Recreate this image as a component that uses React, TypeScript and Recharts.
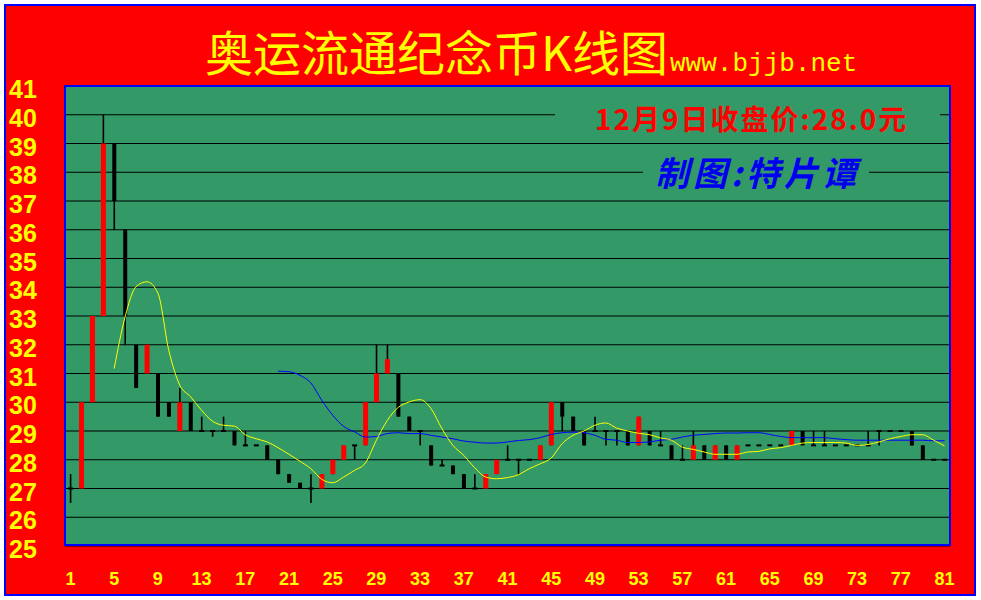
import { Bar, CartesianGrid, ComposedChart, Line, XAxis, YAxis } from "recharts";

// trading day index (x axis categories)
const days = [
  1, 2, 3, 4, 5, 6, 7, 8, 9, 10, 11, 12, 13, 14, 15, 16, 17, 18, 19, 20,
  21, 22, 23, 24, 25, 26, 27, 28, 29, 30, 31, 32, 33, 34, 35, 36, 37, 38, 39, 40,
  41, 42, 43, 44, 45, 46, 47, 48, 49, 50, 51, 52, 53, 54, 55, 56, 57, 58, 59, 60,
  61, 62, 63, 64, 65, 66, 67, 68, 69, 70, 71, 72, 73, 74, 75, 76, 77, 78, 79, 80, 81,
];

const open = [
  27, 27, 30, 33, 39, 36, 32, 31, 31, 30,
  29, 30, 29, 29, 29, 29, 28.5, 28.5, 28.5, 28,
  27.5, 27.2, 27, 27, 27.5, 28, 28.5, 28.5, 30, 31,
  31, 29.5, 29, 28.5, 27.8, 27.8, 27.5, 27, 27, 27.5,
  28, 28, 28, 28, 28.5, 30, 29.5, 29, 29, 29,
  29, 29, 28.5, 29, 28.5, 28.5, 28, 28, 28.5, 28,
  28.5, 28, 28.5, 28.5, 28.5, 28.5, 28.5, 29, 28.5, 28.5,
  28.5, 28.5, 28.5, 28.5, 29, 29, 29, 29, 28.5, 28, 28,
];

const high = [
  27.5, 30, 33, 40, 39, 36, 32, 32, 31, 30,
  30.5, 30, 29.5, 29, 29.5, 29, 29, 28.5, 28.5, 28,
  27.5, 27.2, 27.5, 27.5, 28, 28.5, 28.5, 30, 32, 32,
  31, 29.5, 29, 28.5, 28, 27.8, 27.5, 27.5, 27.5, 28,
  28.5, 28, 28, 28.5, 30, 30, 29.5, 29, 29.5, 29,
  29, 29, 29.5, 29, 29, 28.5, 28.5, 29, 28.5, 28.5,
  28.5, 28.5, 28.5, 28.5, 28.5, 28.5, 29, 29, 29, 29,
  28.5, 28.5, 28.5, 29, 29, 29, 29, 29, 28.5, 28, 28,
];

const low = [
  26.5, 27, 30, 33, 36, 32, 30.5, 31, 29.5, 29.5,
  29, 29, 29, 28.8, 29, 28.5, 28.5, 28.5, 28, 27.5,
  27.2, 27, 26.5, 27, 27.5, 28, 28, 28.5, 30, 31,
  29.5, 29, 28.5, 27.8, 27.8, 27.5, 27, 27, 27, 27.5,
  28, 27.5, 28, 28, 28.5, 29, 29, 28.5, 29, 28.5,
  28.5, 28.5, 28.5, 28.5, 28.5, 28, 28, 28, 28, 28,
  28, 28, 28.5, 28.5, 28.5, 28.5, 28.5, 28.5, 28.5, 28.5,
  28.5, 28.5, 28.5, 28.5, 28.5, 29, 29, 28.5, 28, 28, 28,
];

const close = [
  27, 30, 33, 39, 37, 33, 30.5, 32, 29.5, 29.5,
  30, 29, 29, 29, 29, 28.5, 28.5, 28.5, 28, 27.5,
  27.2, 27, 27, 27.5, 28, 28.5, 28.5, 30, 31, 31.5,
  29.5, 29, 29, 27.8, 27.8, 27.5, 27, 27, 27.5, 28,
  28, 28, 28, 28.5, 30, 29.5, 29, 28.5, 29, 29,
  29, 28.5, 29.5, 28.5, 28.5, 28, 28, 28.5, 28, 28.5,
  28, 28.5, 28.5, 28.5, 28.5, 28.5, 29, 28.5, 28.5, 28.5,
  28.5, 28.5, 28.5, 28.5, 29, 29, 29, 28.5, 28, 28, 28,
];

// yellow short average
const maShort = [
  null, null, null, null, 31.17, 32.97, 34.02, 34.19, 33.8, 31.81,
  30.6, 30.19, 29.72, 29.34, 29.2, 29.17, 28.87, 28.73, 28.62, 28.42,
  28.19, 27.95, 27.69, 27.32, 27.2, 27.4, 27.63, 27.89, 28.68, 29.37,
  29.82, 30.01, 30.09, 29.78, 29.08, 28.5, 28.15, 27.72, 27.4, 27.34,
  27.38, 27.48, 27.69, 27.86, 28.06, 28.56, 28.85, 29.0, 29.2, 29.28,
  29.1, 29.0, 28.92, 28.87, 28.76, 28.68, 28.44, 28.36, 28.27, 28.19,
  28.19, 28.19, 28.27, 28.29, 28.38, 28.42, 28.5, 28.58, 28.6, 28.6,
  28.6, 28.58, 28.5, 28.53, 28.62, 28.73, 28.81, 28.87, 28.87, 28.68, 28.48,
];

// blue long average
const maLong = [
  null, null, null, null, null, null, null, null, null, null,
  null, null, null, null, null, null, null, null, null, 31.08,
  31.06, 30.94, 30.67, 30.07, 29.55, 29.16, 28.97, 28.79, 28.81, 28.91,
  28.94, 28.91, 28.91, 28.85, 28.79, 28.73, 28.65, 28.61, 28.58, 28.58,
  28.62, 28.67, 28.7, 28.77, 28.88, 28.94, 28.96, 28.94, 28.85, 28.71,
  28.68, 28.6, 28.6, 28.62, 28.68, 28.71, 28.79, 28.85, 28.88, 28.91,
  28.93, 28.93, 28.94, 28.94, 28.88, 28.81, 28.77, 28.77, 28.77, 28.77,
  28.73, 28.7, 28.68, 28.68, 28.68, 28.68, 28.68, 28.68, 28.68, 28.66, 28.66,
];

const yTicks = [25, 26, 27, 28, 29, 30, 31, 32, 33, 34, 35, 36, 37, 38, 39, 40, 41];
const Y_MIN = 25;
const Y_MAX = 41;

const rows = days.map((d, k) => ({
  i: d,
  o: open[k],
  h: high[k],
  l: low[k],
  c: close[k],
  ma5: maShort[k],
  ma20: maLong[k],
}));

const RED = "#ff0000";
const GREEN = "#339966";
const YELLOW = "#ffff00";
const BLUE = "#0000ff";
const NUM_FONT = "'Liberation Sans', Arial, sans-serif";
const CJK_FONT = "'Noto Sans CJK SC', 'Noto Sans', sans-serif";

function Candle(props: any) {
  const { x, y, width, height, payload } = props;
  if (!payload) return null;
  const top = Math.min(y, y + height);
  const span = Math.abs(height);
  const { o, h, l, c } = payload;
  const px = (v: number) => top + ((h - v) / (h - Y_MIN)) * span;
  const cx = x + width / 2;
  const hi = Math.max(o, c);
  const lo = Math.min(o, c);
  const up = c > o;
  const bw = up ? 5 : 4;
  return (
    <g>
      {h > l && <line x1={cx} x2={cx} y1={px(h)} y2={px(l)} stroke="#000" strokeWidth={1.6} />}
      {hi > lo ? (
        <rect x={cx - bw / 2} y={px(hi)} width={bw} height={px(lo) - px(hi)} fill={up ? RED : "#000"} />
      ) : (
        <rect x={cx - 2.5} y={px(hi) - 1} width={5} height={2} fill="#000" />
      )}
    </g>
  );
}

const XTick = (p: any) => (
  <text x={p.x} y={579} textAnchor="middle" dominantBaseline="central" fill={YELLOW} fontSize={18} fontWeight="bold" fontFamily={NUM_FONT}>
    {p.payload.value}
  </text>
);

const YTick = (p: any) => (
  <text x={9} y={p.y + 3} textAnchor="start" dominantBaseline="central" fill={YELLOW} fontSize={25} fontWeight="bold" fontFamily={NUM_FONT}>
    {p.payload.value}
  </text>
);

export default function App() {
  return (
    <div style={{ position: "absolute", left: 0, top: 0, width: 981, height: 600, background: "#fff", overflow: "hidden" }}>
      <div style={{ position: "absolute", left: 4, top: 4, width: 972, height: 592, boxSizing: "border-box", border: `2px solid ${BLUE}`, background: RED }} />
      <div style={{ position: "absolute", left: 0, top: 0 }}>
        <ComposedChart width={981} height={600} data={rows} margin={{ top: 86, right: 31, bottom: 24, left: 0 }}>
          <CartesianGrid vertical={false} stroke="#000" strokeWidth={1.2} fill={GREEN} fillOpacity={1} />
          <XAxis dataKey="i" interval={3} height={30} axisLine={false} tickLine={false} tick={XTick} />
          <YAxis domain={[Y_MIN, Y_MAX]} ticks={yTicks} width={65} axisLine={false} tickLine={false} tick={YTick} interval={0} />
          <Bar dataKey={(d: any) => [Y_MIN, d.h]} shape={Candle} isAnimationActive={false} />
          <Line dataKey="ma20" type="monotone" stroke={BLUE} strokeWidth={1} dot={false} activeDot={false} isAnimationActive={false} />
          <Line dataKey="ma5" type="monotone" stroke={YELLOW} strokeWidth={1} dot={false} activeDot={false} isAnimationActive={false} />
        </ComposedChart>
      </div>
      {/* plot frame */}
      <div style={{ position: "absolute", left: 64, top: 85, width: 887, height: 461, boxSizing: "border-box", border: `2px solid ${BLUE}`, pointerEvents: "none" }} />
      {/* title */}
      <div style={{ position: "absolute", left: 205, top: 26, display: "flex", alignItems: "baseline", whiteSpace: "nowrap" }}>
        <span style={{ fontFamily: CJK_FONT, fontSize: 48, lineHeight: "48px", color: YELLOW }}>奥运流通纪念币K线图</span>
        <span style={{ fontFamily: "'Liberation Mono', monospace", fontSize: 26, color: YELLOW, marginLeft: 2 }}>www.bjjb.net</span>
      </div>
      {/* price note */}
      <div style={{ position: "absolute", left: 555, top: 96, width: 385, height: 40, background: GREEN }} />
      <div style={{ position: "absolute", left: 595, top: 103, fontFamily: CJK_FONT, fontSize: 28, lineHeight: "30px", fontWeight: 700, color: RED, letterSpacing: 2, whiteSpace: "nowrap" }}>
        12月9日收盘价:28.0元
      </div>
      {/* author note */}
      <div style={{ position: "absolute", left: 643, top: 152, width: 226, height: 42, background: GREEN }} />
      <div style={{ position: "absolute", left: 655, top: 153, fontFamily: CJK_FONT, fontSize: 34, lineHeight: "38px", fontStyle: "italic", fontWeight: 700, color: "#0000ee", letterSpacing: 4, whiteSpace: "nowrap" }}>
        制图:特片谭
      </div>
    </div>
  );
}
